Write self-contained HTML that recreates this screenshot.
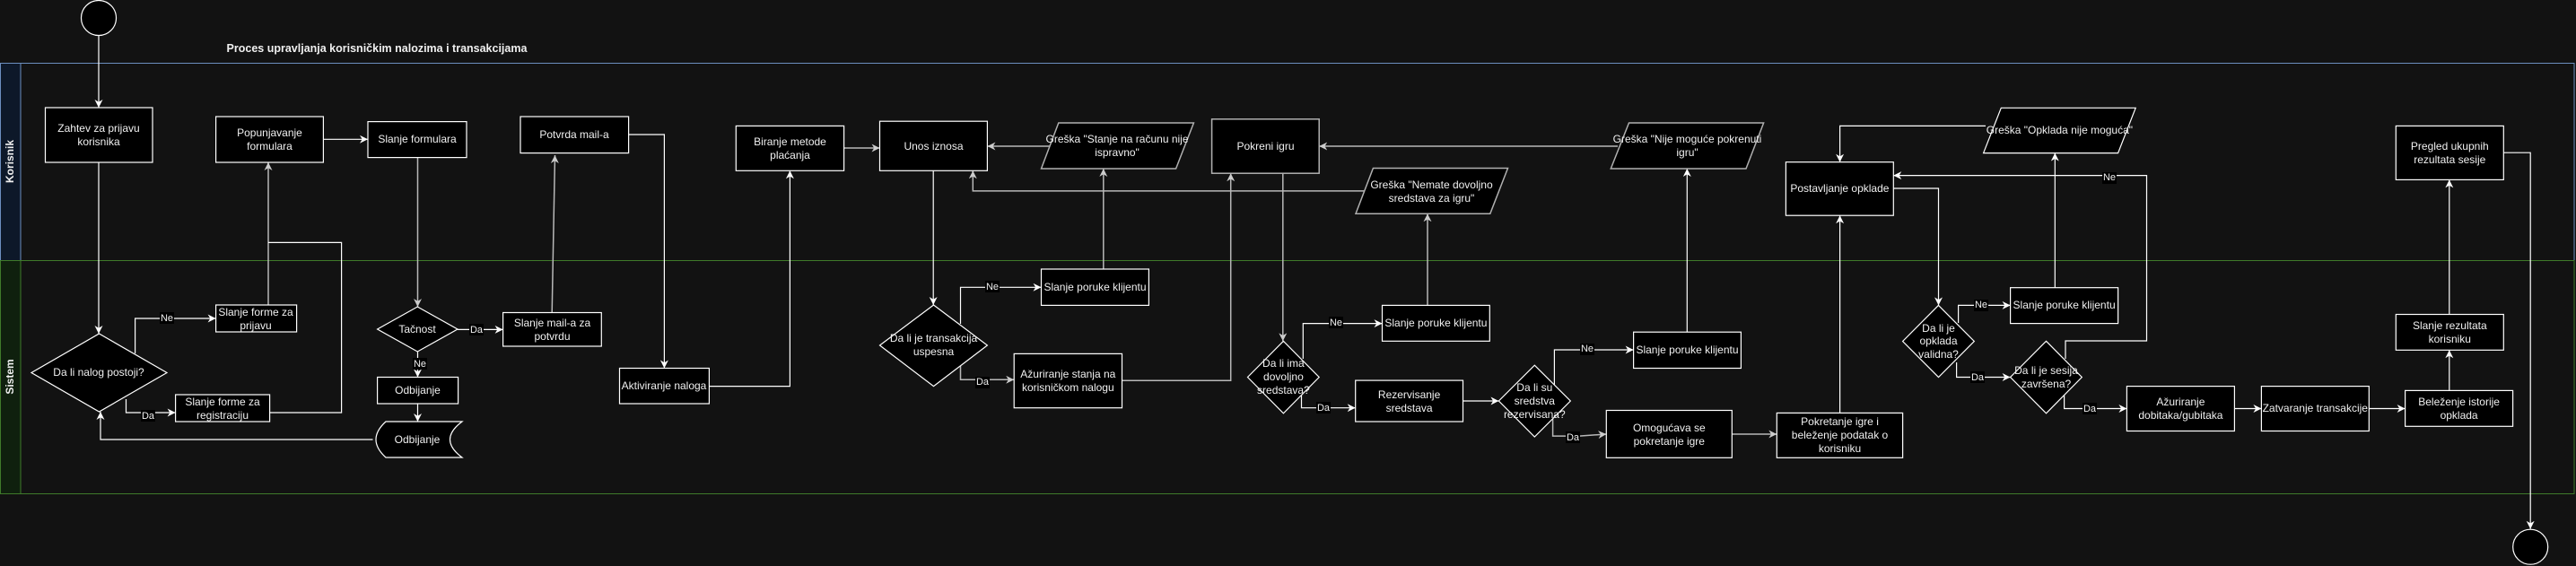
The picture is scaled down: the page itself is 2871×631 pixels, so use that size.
<!DOCTYPE html>
<html><head><meta charset="utf-8"><style>
html,body{margin:0;padding:0;background:#121212;}
svg{display:block;}
text{font-family:"Liberation Sans",Arial,sans-serif;fill:#f0f0f0;font-size:12px;text-anchor:middle;dominant-baseline:central;}
.lbl{font-size:11px;}
.b{fill:#000;stroke:#fff;stroke-width:1.2;}
.g{fill:#000;stroke:#b0b0b0;stroke-width:1.5;}
.e{fill:none;stroke:#fff;stroke-width:1.2;}
.eg{fill:none;stroke:#b8b8b8;stroke-width:1.5;}
</style></head><body>
<svg width="2871" height="631" viewBox="0 0 2871 631" xmlns="http://www.w3.org/2000/svg">
<defs>
<marker id="a" viewBox="0 0 10 10" refX="10" refY="5" markerWidth="9" markerHeight="9" markerUnits="userSpaceOnUse" orient="auto"><path d="M0,0 L10,5 L0,10 L3,5 z" fill="#fff"/></marker>
<marker id="ag" viewBox="0 0 10 10" refX="10" refY="5" markerWidth="9" markerHeight="9" markerUnits="userSpaceOnUse" orient="auto"><path d="M0,0 L10,5 L0,10 L3,5 z" fill="#ccc"/></marker>
</defs>
<rect width="2871" height="631" fill="#121212"/>
<!-- pool -->
<rect x="0.5" y="70.5" width="22.5" height="220" fill="#0d1829" stroke="#6c8ebf"/>
<rect x="23" y="70.5" width="2846" height="220" fill="none" stroke="#6c8ebf"/>
<rect x="0.5" y="290.5" width="22.5" height="260" fill="#0f200e" stroke="#3f7a2a"/>
<rect x="23" y="290.5" width="2846" height="260" fill="none" stroke="#3f7a2a"/>
<text x="11" y="180" transform="rotate(-90 11 180)" style="font-weight:bold;font-size:12px">Korisnik</text>
<text x="11" y="420" transform="rotate(-90 11 420)" style="font-weight:bold;font-size:12px">Sistem</text>
<text x="420" y="54" style="font-weight:bold;font-size:12.5px">Proces upravljanja korisničkim nalozima i transakcijama</text>

<!-- edges -->
<path class="e" d="M110,40 V120" marker-end="url(#a)"/>
<path class="e" d="M110,181 V372" marker-end="url(#a)"/>
<path class="e" d="M150.6,394 V355 H240.6" marker-end="url(#a)"/>
<path class="e" d="M140.5,445 V460 H195.6" marker-end="url(#a)"/>
<path class="eg" d="M299,340 V181" marker-end="url(#ag)"/>
<path class="e" d="M300.7,460 H380.6 V270.4 H299"/>
<path class="e" d="M360.4,155.3 H410" marker-end="url(#a)"/>
<path class="eg" d="M465.5,175.5 V342" marker-end="url(#ag)"/>
<path class="e" d="M510,367.4 H560.6" marker-end="url(#a)"/>
<path class="e" d="M465.5,392 V420.5" marker-end="url(#a)"/>
<path class="e" d="M465.5,450 V470" marker-end="url(#a)"/>
<path class="e" d="M415.5,490 H112 V459" marker-end="url(#a)"/>
<path class="eg" d="M615.2,348.5 L618.5,173" marker-end="url(#ag)"/>
<path class="e" d="M700.6,150 H740.4 V410.5" marker-end="url(#a)"/>
<path class="e" d="M790.4,430.6 H880.4 V190.3" marker-end="url(#a)"/>
<path class="eg" d="M940.6,165 H980.5" marker-end="url(#ag)"/>
<path class="e" d="M1040.2,190.3 V340" marker-end="url(#a)"/>
<path class="e" d="M1070.5,361 V320.3 H1160.5" marker-end="url(#a)"/>
<path class="eg" d="M1070.5,408 V423.3 H1130.2" marker-end="url(#ag)"/>
<path class="eg" d="M1229.8,300 V188" marker-end="url(#ag)"/>
<path class="eg" d="M1170.6,163 H1100.4" marker-end="url(#ag)"/>
<path class="eg" d="M1521.7,212.9 H1084.3 V190.3" marker-end="url(#ag)"/>
<path class="eg" d="M1250.5,424.2 H1371.7 V193.2" marker-end="url(#ag)"/>
<path class="eg" d="M1429.8,193.2 V380.3" marker-end="url(#ag)"/>
<path class="e" d="M1452.3,400 V360.6 H1540.5" marker-end="url(#a)"/>
<path class="e" d="M1450.5,440 V454.7 H1510.7" marker-end="url(#a)"/>
<path class="eg" d="M1591,340.4 V238.2" marker-end="url(#ag)"/>
<path class="eg" d="M1803,163 H1470.2" marker-end="url(#ag)"/>
<path class="e" d="M1880.3,370.2 V188" marker-end="url(#a)"/>
<path class="e" d="M1630.5,447 H1670.4" marker-end="url(#a)"/>
<path class="e" d="M1732.4,428.6 V390 H1820.6" marker-end="url(#a)"/>
<path class="eg" d="M1730.6,466.8 V486.1 H1760 L1790.3,484" marker-end="url(#ag)"/>
<path class="eg" d="M1930.3,484 H1980.3" marker-end="url(#ag)"/>
<path class="e" d="M2050.6,460.4 V240.2" marker-end="url(#a)"/>
<path class="e" d="M2213,140.4 H2050.6 V180.7" marker-end="url(#a)"/>
<path class="e" d="M2110.3,210 H2160.5 V340.4" marker-end="url(#a)"/>
<path class="e" d="M2182.6,360 V340.4 H2240.6" marker-end="url(#a)"/>
<path class="e" d="M2180.6,404 V420.5 H2240.6" marker-end="url(#a)"/>
<path class="e" d="M2290.3,320.7 V170.6" marker-end="url(#a)"/>
<path class="e" d="M2302,400 V380 H2392.5 V195.6 H2110.3" marker-end="url(#a)"/>
<path class="e" d="M2300.6,440 V455.5 H2370.4" marker-end="url(#a)"/>
<path class="e" d="M2490.4,455.5 H2520.4" marker-end="url(#a)"/>
<path class="e" d="M2640.3,455.5 H2680.6" marker-end="url(#a)"/>
<path class="e" d="M2729.8,435.4 V390.3" marker-end="url(#a)"/>
<path class="e" d="M2729.8,350.5 V200.4" marker-end="url(#a)"/>
<path class="e" d="M2790.3,170.2 H2820.2 V589.7" marker-end="url(#a)"/>

<!-- edge labels -->
<g class="lbl">
<rect x="178" y="348" width="16" height="13" fill="#000"/><text class="lbl" x="186" y="355">Ne</text>
<rect x="157" y="457" width="16" height="13" fill="#000"/><text class="lbl" x="165" y="464">Da</text>
<rect x="523" y="361" width="16" height="13" fill="#000"/><text class="lbl" x="531" y="368">Da</text>
<rect x="460" y="399" width="16" height="13" fill="#000"/><text class="lbl" x="468" y="406">Ne</text>
<rect x="1098" y="313" width="16" height="13" fill="#000"/><text class="lbl" x="1106" y="320">Ne</text>
<rect x="1087" y="420" width="16" height="13" fill="#000"/><text class="lbl" x="1095" y="426">Da</text>
<rect x="1481" y="353" width="16" height="13" fill="#000"/><text class="lbl" x="1489" y="360">Ne</text>
<rect x="1467" y="448" width="16" height="13" fill="#000"/><text class="lbl" x="1475" y="455">Da</text>
<rect x="1761" y="383" width="16" height="13" fill="#000"/><text class="lbl" x="1769" y="389">Ne</text>
<rect x="1745" y="481" width="16" height="13" fill="#000"/><text class="lbl" x="1753" y="488">Da</text>
<rect x="2200" y="334" width="16" height="13" fill="#000"/><text class="lbl" x="2208" y="340">Ne</text>
<rect x="2196" y="414" width="16" height="13" fill="#000"/><text class="lbl" x="2204" y="421">Da</text>
<rect x="2343" y="192" width="16" height="13" fill="#000"/><text class="lbl" x="2351" y="198">Ne</text>
<rect x="2321" y="449" width="16" height="13" fill="#000"/><text class="lbl" x="2329" y="456">Da</text>
</g>

<!-- nodes -->
<circle class="b" cx="110" cy="20" r="19.5"/>
<circle class="b" cx="2820.2" cy="609.7" r="19.5"/>

<rect class="b" x="50.5" y="120" width="119.5" height="61"/>
<text x="110" y="143">Zahtev za prijavu</text><text x="110" y="158">korisnika</text>
<rect class="b" x="240.6" y="130" width="119.8" height="51"/>
<text x="300.5" y="148">Popunjavanje</text><text x="300.5" y="163">formulara</text>
<rect class="b" x="410" y="135.6" width="110" height="40"/>
<text x="465" y="155">Slanje formulara</text>
<rect class="b" x="580" y="130" width="120.6" height="40.6"/>
<text x="640" y="150">Potvrda mail-a</text>

<polygon class="b" points="110.5,372 186,415.5 110.5,459 35,415.5"/>
<text x="110" y="415">Da li nalog postoji?</text>
<rect class="b" x="240.6" y="340" width="90" height="30"/>
<text x="285" y="348">Slanje forme za</text><text x="285" y="363">prijavu</text>
<rect class="b" x="195.6" y="440" width="105" height="30"/>
<text x="248" y="448">Slanje forme za</text><text x="248" y="463">registraciju</text>
<polygon class="b" points="465.3,342 510,367 465.3,392 420.6,367"/>
<text x="465" y="367">Tačnost</text>
<rect class="b" x="560.6" y="348.5" width="109.7" height="37.5"/>
<text x="615.5" y="360">Slanje mail-a za</text><text x="615.5" y="375">potvrdu</text>
<rect class="b" x="420.6" y="420.5" width="90" height="29.5"/>
<text x="465.5" y="435">Odbijanje</text>
<path class="b" d="M430,470 H515 Q488,490 515,510 H430 Q408,490 430,470 Z"/>
<text x="465" y="490">Odbijanje</text>
<rect class="b" x="690.5" y="410.5" width="99.9" height="39.5"/>
<text x="740" y="430">Aktiviranje naloga</text>

<rect class="b" x="820.3" y="140.4" width="120.3" height="49.9"/>
<text x="880.5" y="158">Biranje metode</text><text x="880.5" y="173">plaćanja</text>
<rect class="b" x="980.5" y="135.2" width="119.9" height="55.1"/>
<text x="1040.5" y="163">Unos iznosa</text>
<polygon class="g" points="1179.8,137 1330.4,137 1310.6,188 1160.5,188"/>
<text x="1245" y="155">Greška "Stanje na računu nije</text><text x="1245" y="170">ispravno"</text>
<rect class="g" x="1350.6" y="132.8" width="119.6" height="60.4"/>
<text x="1410.5" y="163">Pokreni igru</text>
<rect class="b" x="1160.5" y="300" width="119.9" height="40.4"/>
<text x="1220.5" y="320">Slanje poruke klijentu</text>
<polygon class="b" points="1040.5,340 1100.4,385 1040.5,430.6 980.5,385"/>
<text x="1040.5" y="377">Da li je transakcija</text><text x="1040.5" y="392">uspesna</text>
<rect class="b" x="1130.2" y="394.4" width="120.3" height="60.3"/>
<text x="1190.3" y="417">Ažuriranje stanja na</text><text x="1190.3" y="432">korisničkom nalogu</text>

<polygon class="g" points="1530.4,187.5 1680.5,187.5 1660.8,238.2 1511,238.2"/>
<text x="1595.5" y="206">Greška "Nemate dovoljno</text><text x="1595.5" y="221">sredstava za igru"</text>
<polygon class="g" points="1815.5,137 1965.6,137 1946,188 1795.3,188"/>
<text x="1880.5" y="155">Greška "Nije moguće pokrenuti</text><text x="1880.5" y="170">igru"</text>
<polygon class="b" points="1430.4,380.3 1470.2,420.5 1430.4,460.8 1390.5,420.5"/>
<text x="1430.4" y="405">Da li ima</text><text x="1430.4" y="420">dovoljno</text><text x="1430.4" y="435">sredstava?</text>
<rect class="b" x="1540.5" y="340.4" width="119.8" height="39.9"/>
<text x="1600.4" y="360">Slanje poruke klijentu</text>
<rect class="b" x="1510.7" y="424.1" width="119.8" height="45.9"/>
<text x="1570.6" y="440">Rezervisanje</text><text x="1570.6" y="455">sredstava</text>
<polygon class="b" points="1710.3,407.2 1750.3,447 1710.3,487 1670.4,447"/>
<text x="1710.3" y="432">Da li su</text><text x="1710.3" y="447">sredstva</text><text x="1710.3" y="462">rezervisana?</text>
<rect class="b" x="1820.6" y="370.2" width="119.8" height="40.3"/>
<text x="1880.5" y="390">Slanje poruke klijentu</text>
<rect class="b" x="1790.3" y="457.5" width="140" height="52.8"/>
<text x="1860.3" y="477">Omogućava se</text><text x="1860.3" y="492">pokretanje igre</text>
<rect class="b" x="1980.3" y="460.4" width="140.3" height="49.9"/>
<text x="2050.5" y="470">Pokretanje igre i</text><text x="2050.5" y="485">beleženje podatak o</text><text x="2050.5" y="500">korisniku</text>
<rect class="b" x="1990.4" y="180.7" width="119.9" height="59.5"/>
<text x="2050.4" y="210">Postavljanje opklade</text>

<polygon class="b" points="2230.3,120.3 2380.2,120.3 2360.6,170.6 2210.6,170.6"/>
<text x="2295.4" y="145">Greška "Opklada nije moguća"</text>
<rect class="b" x="2670.3" y="140.4" width="120" height="60"/>
<text x="2730.3" y="163">Pregled ukupnih</text><text x="2730.3" y="178">rezultata sesije</text>
<rect class="b" x="2240.6" y="320.7" width="120" height="39.9"/>
<text x="2300.6" y="340">Slanje poruke klijentu</text>
<polygon class="b" points="2160.5,340.4 2200.3,380.5 2160.5,420.5 2120.6,380.5"/>
<text x="2160.5" y="366">Da li je</text><text x="2160.5" y="380">opklada</text><text x="2160.5" y="395">validna?</text>
<polygon class="b" points="2280.5,380.3 2320.3,420.5 2280.5,460.8 2240.6,420.5"/>
<text x="2280.5" y="413">Da li je sesija</text><text x="2280.5" y="428">završena?</text>
<rect class="b" x="2370.4" y="430.6" width="120" height="49.9"/>
<text x="2430.4" y="448">Ažuriranje</text><text x="2430.4" y="463">dobitaka/gubitaka</text>
<rect class="b" x="2520.4" y="430.6" width="119.9" height="49.9"/>
<text x="2580.3" y="455">Zatvaranje transakcije</text>
<rect class="b" x="2680.6" y="435.4" width="120" height="39.9"/>
<text x="2740.6" y="448">Beleženje istorije</text><text x="2740.6" y="463">opklada</text>
<rect class="b" x="2670.3" y="350.5" width="120" height="39.8"/>
<text x="2730.3" y="363">Slanje rezultata</text><text x="2730.3" y="378">korisniku</text>
</svg>
</body></html>
